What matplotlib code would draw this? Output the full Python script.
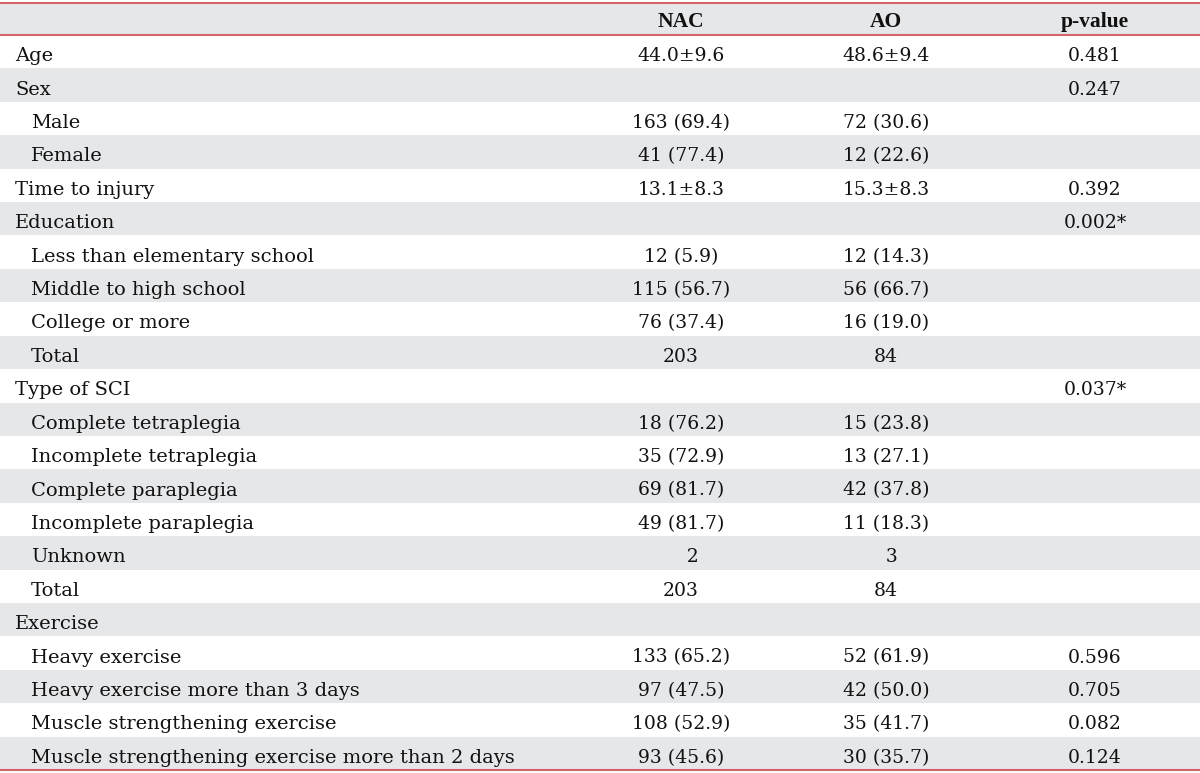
import matplotlib.pyplot as plt

# datos de la tabla
columns = ['NAC', 'AO', 'p-value']
labels = ['Age', 'Sex', 'Male', 'Female', 'Time to injury', 'Education',
          'Less than elementary school', 'Middle to high school', 'College or more', 'Total',
          'Type of SCI', 'Complete tetraplegia', 'Incomplete tetraplegia',
          'Complete paraplegia', 'Incomplete paraplegia', 'Unknown', 'Total',
          'Exercise', 'Heavy exercise', 'Heavy exercise more than 3 days',
          'Muscle strengthening exercise', 'Muscle strengthening exercise more than 2 days']
indent = [0, 0, 1, 1, 0, 0, 1, 1, 1, 1, 0, 1, 1, 1, 1, 1, 1, 0, 1, 1, 1, 1]
nac = ['44.0\u00b19.6', '', '163 (69.4)', '41 (77.4)', '13.1\u00b18.3', '',
       '12 (5.9)', '115 (56.7)', '76 (37.4)', '203', '',
       '18 (76.2)', '35 (72.9)', '69 (81.7)', '49 (81.7)', '\u2007\u20072', '203',
       '', '133 (65.2)', '97 (47.5)', '108 (52.9)', '93 (45.6)']
ao = ['48.6\u00b19.4', '', '72 (30.6)', '12 (22.6)', '15.3\u00b18.3', '',
      '12 (14.3)', '56 (66.7)', '16 (19.0)', '84', '',
      '15 (23.8)', '13 (27.1)', '42 (37.8)', '11 (18.3)', '\u20073', '84',
      '', '52 (61.9)', '42 (50.0)', '35 (41.7)', '30 (35.7)']
pval = ['0.481', '0.247', '', '', '0.392', '0.002*',
        '', '', '', '', '0.037*',
        '', '', '', '', '', '',
        '', '0.596', '0.705', '0.082', '0.124']

W, H = 1200, 773
gray = '#e6e7e9'
red = '#d4646c'

fig = plt.figure(figsize=(12, 7.73), dpi=100)
ax = fig.add_axes([0, 0, 1, 1])
ax.set_xlim(0, W)
ax.set_ylim(H, 0)
ax.axis('off')

top = 3
head_h = 32
bottom = 770
row_h = (bottom - top - head_h) / len(labels)
col_x = [681, 886, 1095]

# encabezado
ax.axhspan(top, top + head_h, color=gray, lw=0)
for cx, c in zip(col_x, columns):
    ax.text(cx, top + head_h / 2 + 8, c, ha='center', va='baseline', fontsize=15.5,
            fontweight='bold', family='Liberation Serif', color='#111111')

# filas
for i, lab in enumerate(labels):
    y0 = top + head_h + i * row_h
    if i % 2 == 1:
        ax.axhspan(y0, y0 + row_h, color=gray, lw=0)
    yb = y0 + row_h / 2 + 9.5
    ax.text(15 + 16 * indent[i], yb, lab, ha='left', va='baseline', fontsize=14,
            family='DejaVu Serif', color='#111111')
    for cx, v in zip(col_x, [nac[i], ao[i], pval[i]]):
        ax.text(cx, yb, v, ha='center', va='baseline', fontsize=13.5,
                family='DejaVu Serif', color='#111111')

ax.axhline(top, color=red, lw=1.5)
ax.axhline(top + head_h, color=red, lw=1.5)
ax.axhline(bottom, color=red, lw=1.5)

fig.savefig('out.png', dpi=100)
